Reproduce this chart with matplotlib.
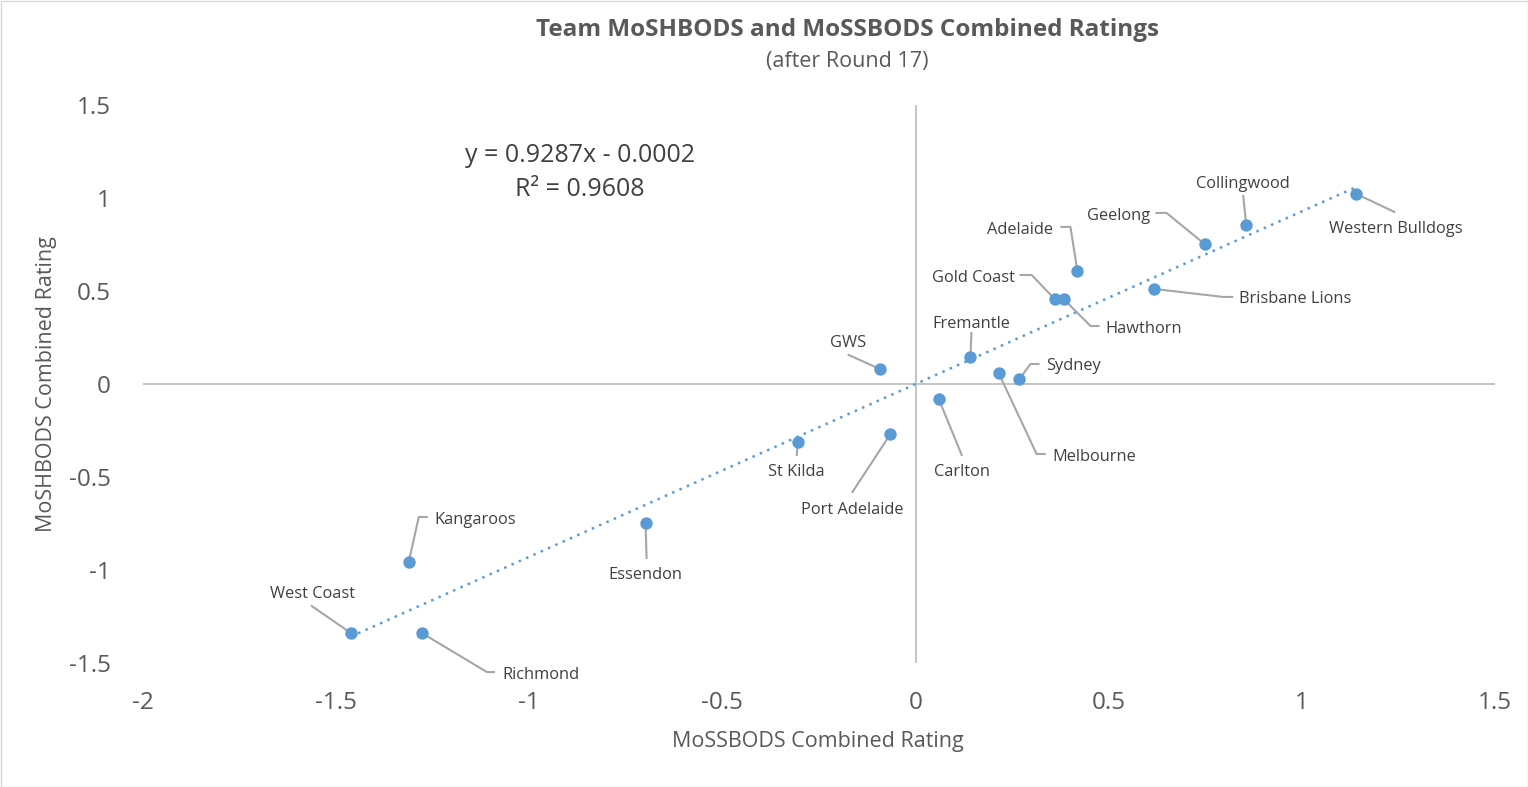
import numpy as np
import matplotlib
matplotlib.use("Agg")
import matplotlib.pyplot as plt

plt.rcParams['font.family'] = ['Open Sans', 'DejaVu Sans']

teams = ['Western Bulldogs', 'Collingwood', 'Geelong', 'Adelaide', 'Brisbane Lions',
         'Gold Coast', 'Hawthorn', 'Fremantle', 'Melbourne', 'Sydney', 'GWS',
         'Carlton', 'Port Adelaide', 'St Kilda', 'Essendon', 'Kangaroos',
         'West Coast', 'Richmond']
mossbods = [1.141, 0.856, 0.748, 0.419, 0.618, 0.360, 0.383, 0.142, 0.215, 0.269,
            -0.093, 0.060, -0.065, -0.305, -0.699, -1.312, -1.462, -1.278]
moshbods = [1.022, 0.855, 0.753, 0.608, 0.511, 0.457, 0.457, 0.145, 0.059, 0.027,
            0.081, -0.081, -0.269, -0.312, -0.747, -0.957, -1.339, -1.339]
slope, intercept = 0.9287, -0.0002
r2 = 0.9608

# label layout in pixels: text offset, ha, leader end offset, elbow length
label_pos = {
    'Western Bulldogs': (39, -33, 'center', 38, -18, 0),
    'Collingwood': (-3, 43, 'center', -3, 29, 0),
    'Geelong': (-54, 30, 'right', -38, 31, -10),
    'Adelaide': (-24, 43, 'right', -7, 44, -9),
    'Brisbane Lions': (85, -8, 'left', 69, -8, 9),
    'Gold Coast': (-40, 23, 'right', -23, 24, -11),
    'Hawthorn': (42, -28, 'left', 27, -27, 8),
    'Fremantle': (1, 35, 'center', 1, 24, 0),
    'Melbourne': (54, -82, 'left', 38, -81, 8),
    'Sydney': (27, 15, 'left', 11, 15, 8),
    'GWS': (-32, 28, 'center', -31, 14, 0),
    'Carlton': (23, -71, 'center', 23, -56, 0),
    'Port Adelaide': (-38, -74, 'center', -38, -58, 0),
    'St Kilda': (-1, -28, 'center', -1, -13, 0),
    'Essendon': (0, -50, 'center', 1, -35, 0),
    'Kangaroos': (26, 44, 'left', 10, 45, 8),
    'West Coast': (-38, 41, 'center', -39, 27, 0),
    'Richmond': (80, -40, 'left', 65, -39, 7),
}

fig = plt.figure(figsize=(15.28, 7.87), dpi=100)
ax = fig.add_axes([143 / 1528, 1 - 663 / 787, (1495 - 143) / 1528, (663 - 105) / 787])
ax.set_xlim(-2, 1.5)
ax.set_ylim(-1.5, 1.5)

for s in ax.spines.values():
    s.set_visible(False)
ax.axhline(0, color='#BFBFBF', lw=1.3, zorder=1)
ax.axvline(0, color='#BFBFBF', lw=1.3, zorder=1)
ax.set_xticks(np.arange(-2, 1.51, 0.5))
ax.set_yticks(np.arange(-1.5, 1.51, 0.5))
ax.set_xticklabels(['-2', '-1.5', '-1', '-0.5', '0', '0.5', '1', '1.5'])
ax.set_yticklabels(['-1.5', '-1', '-0.5', '0', '0.5', '1', '1.5'])
ax.tick_params(length=0, labelsize=17.5, colors='#595959')
ax.tick_params(axis='x', pad=20)
ax.tick_params(axis='y', pad=23)

# trendline
xt = np.array([min(mossbods), max(mossbods)])
ax.plot(xt, slope * xt + intercept, color='#5B9BD5', lw=1.8, ls=(0, (1, 2.2)), zorder=2)

ax.scatter(mossbods, moshbods, s=80, color='#5B9BD5', zorder=4, linewidths=0)

inv = ax.transAxes.inverted()
for t, x, y in zip(teams, mossbods, moshbods):
    tdx, tdy, ha, ldx, ldy, hl = label_pos[t]
    px, py = ax.transData.transform((x, y))
    pts = [(px, py), (px + ldx, py + ldy)]
    if hl:
        pts.append((px + ldx + hl, py + ldy))
    pts = inv.transform(pts)
    ax.plot(pts[:, 0], pts[:, 1], color='#A6A6A6', lw=1.5, transform=ax.transAxes,
            clip_on=False, zorder=3)
    ax.annotate(t, (x, y), xytext=(tdx, tdy - 2), textcoords='offset pixels',
                ha=ha, va='center', fontsize=11.8, color='#404040')

fig.text(580 / 1528, 1 - 155 / 787, 'y = 0.9287x - 0.0002', ha='center', va='center',
         fontsize=18, color='#404040')
fig.text(580 / 1528, 1 - 189 / 787, 'R² = %.4f' % r2, ha='center', va='center',
         fontsize=18, color='#404040')

fig.text(847 / 1528, 1 - 30 / 787, 'Team MoSHBODS and MoSSBODS Combined Ratings',
         ha='center', va='center', fontsize=17.5, fontweight='bold', color='#595959')
fig.text(847 / 1528, 1 - 62 / 787, '(after Round 17)', ha='center', va='center',
         fontsize=15.5, color='#595959')
fig.text(818 / 1528, 1 - 742 / 787, 'MoSSBODS Combined Rating', ha='center', va='center',
         fontsize=15.5, color='#595959')
fig.text(47 / 1528, 1 - 384 / 787, 'MoSHBODS Combined Rating', ha='center', va='center',
         fontsize=15.5, color='#595959', rotation=90)

fig.patches.append(plt.Rectangle((0.5 / 1528, 0.5 / 787), 1 - 1 / 1528, 1 - 1 / 787,
                                 transform=fig.transFigure, fill=False,
                                 edgecolor='#D9D9D9', lw=1))

fig.savefig('out.png', dpi=100, facecolor='white')
